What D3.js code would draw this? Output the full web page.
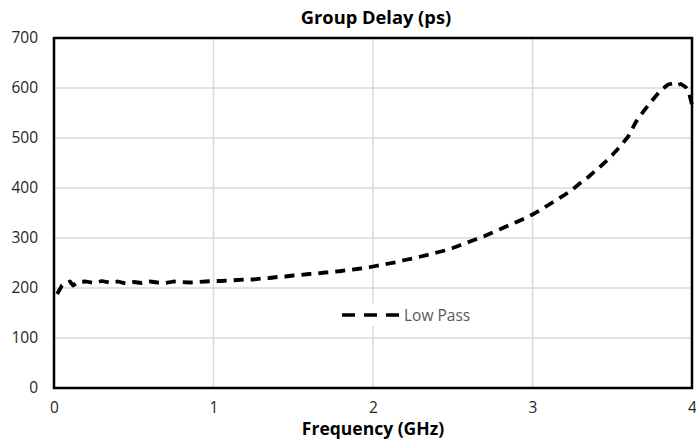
<!DOCTYPE html>
<html><head><meta charset="utf-8">
<script src="https://cdn.jsdelivr.net/npm/d3@7"></script>
<style>
body{margin:0;background:#fff;}
text{font-family:"Open Sans",Calibri,sans-serif;}
</style></head>
<body><svg id="c" width="696" height="442"></svg>
<script>
const freqGHz = [0.02,0.05,0.08,0.10,0.12,0.15,0.20,0.25,0.30,0.35,0.40,0.45,0.50,0.55,0.60,0.65,0.70,0.75,0.80,0.85,0.90,0.95,
  1.00,1.05,1.10,1.15,1.20,1.25,1.30,1.35,1.40,1.45,1.50,1.55,1.60,1.65,1.70,1.75,1.80,1.85,1.90,1.95,
  2.00,2.05,2.10,2.15,2.20,2.25,2.30,2.35,2.40,2.45,2.50,2.55,2.60,2.65,2.70,2.75,2.80,2.85,2.90,2.95,
  3.00,3.05,3.10,3.15,3.20,3.25,3.30,3.35,3.40,3.45,3.50,3.55,3.60,3.65,3.70,3.75,3.80,3.85,3.88,3.90,3.93,3.96,3.98,4.00];
const lowPassDelay = [188,205,210,213,205,212,213,210,214,211,213,209,212,210,213,211,210,213,212,211,212,213,
  214,214,215,216,217,217,219,220,222,223,225,226,228,229,231,232,234,236,238,240,
  243,246,249,252,256,259,263,267,271,275,280,286,292,298,304,311,318,325,332,339,
  347,356,366,376,386,397,410,422,436,450,466,483,503,533,555,575,594,607,609,605,608,602,592,566];
const xTicks = [0,1,2,3,4];
const yTicks = [0,100,200,300,400,500,600,700];
const seriesName = "Low Pass";
const chartTitle = "Group Delay (ps)";
const xTitle = "Frequency (GHz)";

const svg = d3.select("#c");
const L=54, R=692, T=38, B=388;
const x = d3.scaleLinear().domain([0,4]).range([L,R]);
const y = d3.scaleLinear().domain([0,700]).range([B,T]);

// gridlines
svg.append("g").selectAll("line.h").data(yTicks).join("line")
  .attr("x1",L).attr("x2",R).attr("y1",d=>y(d)).attr("y2",d=>y(d))
  .attr("stroke","#d9d9d9").attr("stroke-width",1.5);
svg.append("g").selectAll("line.v").data(xTicks).join("line")
  .attr("y1",T).attr("y2",B).attr("x1",d=>x(d)).attr("x2",d=>x(d))
  .attr("stroke","#d9d9d9").attr("stroke-width",1.5);

// axes labels
const xAxis = d3.axisBottom(x).tickValues(xTicks).tickSize(0).tickPadding(14).tickFormat(d3.format("d"));
const gx = svg.append("g").attr("transform",`translate(0,${B})`).call(xAxis);
gx.select(".domain").remove();
gx.selectAll("text").attr("font-size",15.5).attr("fill","#262626").style("font-family","'Open Sans',sans-serif");
const yAxis = d3.axisLeft(y).tickValues(yTicks).tickSize(0).tickPadding(16).tickFormat(d3.format("d"));
const gy = svg.append("g").attr("transform",`translate(${L},0)`).call(yAxis);
gy.select(".domain").remove();
gy.selectAll("text").attr("font-size",15.5).attr("fill","#262626").style("font-family","'Open Sans',sans-serif");

// line
const line = d3.line().x((d,i)=>x(freqGHz[i])).y(d=>y(d)).curve(d3.curveLinear);
svg.append("path").datum(lowPassDelay).attr("d",line)
  .attr("fill","none").attr("stroke","#000").attr("stroke-width",3.8)
  .attr("stroke-dasharray","10,7").attr("stroke-linejoin","round");

// border
svg.append("rect").attr("x",L).attr("y",T).attr("width",R-L).attr("height",B-T)
  .attr("fill","none").attr("stroke","#000").attr("stroke-width",2.5);

// legend
svg.append("rect").attr("x",338).attr("y",304).attr("width",140).attr("height",22).attr("fill","#fff");
svg.append("line").attr("x1",342).attr("x2",399).attr("y1",315).attr("y2",315)
  .attr("stroke","#000").attr("stroke-width",3.5).attr("stroke-dasharray","13,9");
svg.append("text").attr("x",404).attr("y",320.5).attr("font-size",15.5).attr("fill","#595959").text(seriesName);

// titles
svg.append("text").attr("x",376).attr("y",24).attr("text-anchor","middle")
  .attr("font-size",18.3).attr("font-weight","bold").attr("fill","#000").text(chartTitle);
svg.append("text").attr("x",373).attr("y",435).attr("text-anchor","middle")
  .attr("font-size",17.5).attr("font-weight","bold").attr("fill","#000").text(xTitle);
</script></body></html>
